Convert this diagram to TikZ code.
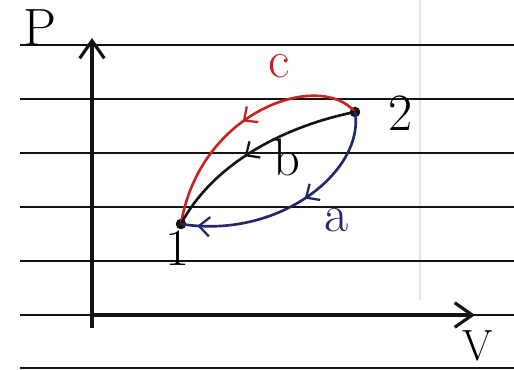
\documentclass[tikz,border=0pt]{standalone}
\usetikzlibrary{arrows.meta,decorations.markings}
\definecolor{pen}{RGB}{20,20,20}
\definecolor{redink}{RGB}{200,35,35}
\definecolor{blueink}{RGB}{35,40,105}
\tikzset{barbtip/.tip={Straight Barb[length=6pt,width=11pt,line width=1.3pt]}}
\begin{document}
\begin{tikzpicture}[x=0.02cm,y=-0.02cm,
  rule/.style={line width=1.5pt,pen},
  axis/.style={line width=2pt,pen,-{Straight Barb[length=10pt,width=14pt,line width=1.8pt]}},
  proc/.style={line width=1.5pt},
  lbl/.style={inner sep=0pt,font=\Huge},
  biglbl/.style={inner sep=0pt,font=\Huge,scale=1.2},
  dot/.style={circle,fill=pen,inner sep=0pt,minimum size=6pt}]
\fill[white] (0,0) rectangle (514,369);
\useasboundingbox (0,0) rectangle (514,369);
% faint margin line
\draw[black!10,line width=0.8pt] (420,0) -- (420,300);
% ruled lines
\foreach \yy in {45,99,153,207,261,315,368}
  \draw[rule] (20,\yy) -- (514,\yy);
% axes
\coordinate (O) at (92,315);
\coordinate (ytop) at (92,38);
\coordinate (xend) at (475,315);
\draw[line width=2pt,pen] (O) -- (92,328);
\draw[axis] (O) -- (ytop);
\draw[axis] (O) -- (xend);
\node[biglbl] (P) at (40,28) {P};
\node[lbl] (V) at (478,346) {V};
% states
\node[dot] (s1) at (181,224) {};
\node[dot] (s2) at (355,112) {};
\node[biglbl] (n2) at (401,113) {2};
\node[biglbl] (n1) at (178,248) {1};
% process c (red)
\draw[proc,redink,postaction={decorate},
  decoration={markings,mark=at position 0.5 with {\arrow{barbtip}}}]
  (s2.center) .. controls (320,70) and (200,110) .. (s1.center);
\node[biglbl,text=redink] (c) at (279,66) {c};
% process b (black)
\draw[proc,pen,postaction={decorate},
  decoration={markings,mark=at position 0.56 with {\arrow{barbtip}}}]
  (s2.center) .. controls (290,125) and (215,160) .. (s1.center);
\node[biglbl] (b) at (287,158) {b};
% process a (blue)
\draw[proc,blueink,postaction={decorate},
  decoration={markings,mark=at position 0.45 with {\arrow{barbtip}},
                      mark=at position 0.93 with {\arrow{barbtip}}}]
  (s2.center) .. controls (365,170) and (280,240) .. (s1.center);
\node[biglbl,text=blueink] (a) at (337,220) {a};
\end{tikzpicture}
\end{document}
